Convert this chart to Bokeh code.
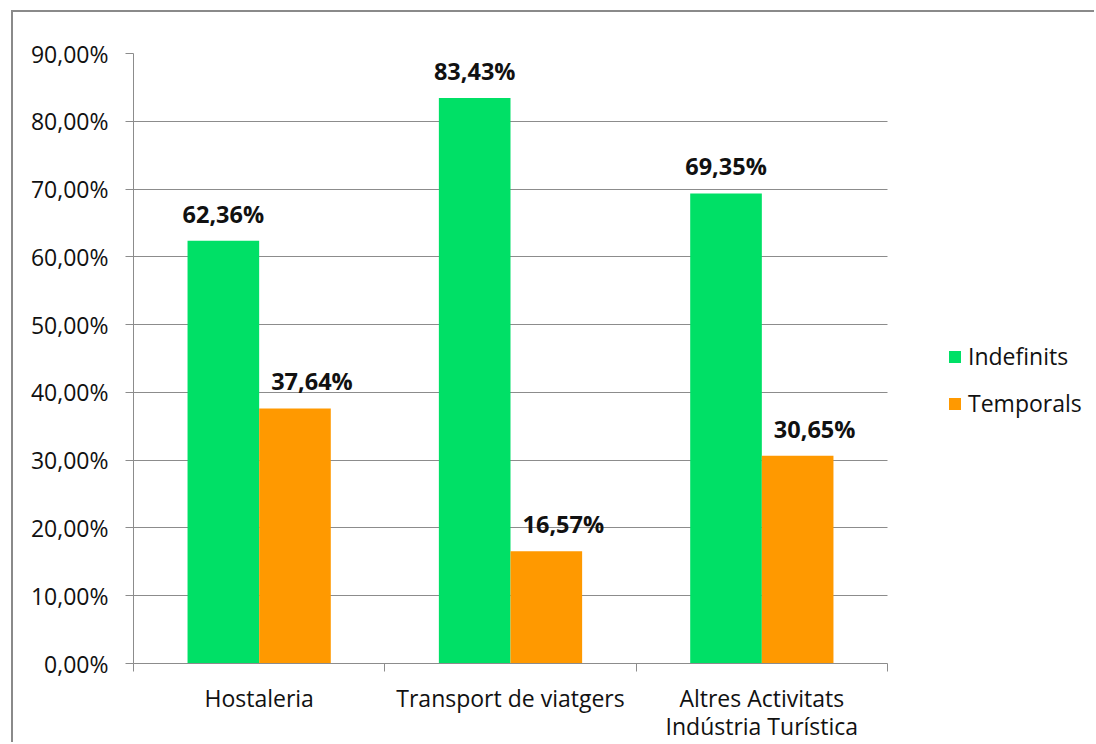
from bokeh.plotting import figure
from bokeh.models import FixedTicker, Legend, LegendItem, ColumnDataSource, Range1d
from bokeh.core.properties import value
from bokeh.embed import file_html
from bokeh.resources import INLINE

# ---- data ----
categories = ["Hostaleria", "Transport de viatgers", "Altres Activitats\nIndústria Turística"]
indefinits = [62.36, 83.43, 69.35]
temporals = [37.64, 16.57, 30.65]
series_names = ["Indefinits", "Temporals"]
y_ticks = [0, 10, 20, 30, 40, 50, 60, 70, 80, 90]
y_tick_labels = ["0,00%", "10,00%", "20,00%", "30,00%", "40,00%",
                 "50,00%", "60,00%", "70,00%", "80,00%", "90,00%"]

GREEN = "#00E066"
ORANGE = "#FF9900"
GRID = "#8C8C8C"
TEXT = "#111111"
FONT = "Open Sans"

# layout (pixels)
W, H = 1083, 732
LEFT, TOP, BOTTOM = 120, 41, 79
PLOT_W = 754                      # width used by the category axis
FRAME_W = W - LEFT                # frame also hosts the legend on its right

def pct(v):
    return ("%.2f%%" % v).replace(".", ",")

n = len(categories)
bar_w = 0.285
idx = list(range(n))
src_i = ColumnDataSource(dict(x=[i + 0.5 - bar_w / 2 for i in idx], top=indefinits,
                              lab=[pct(v) for v in indefinits]))
src_t = ColumnDataSource(dict(x=[i + 0.5 + bar_w / 2 for i in idx], top=temporals,
                              lab=[pct(v) for v in temporals]))

p = figure(width=W, height=H, output_backend="svg", toolbar_location=None,
           x_range=Range1d(0, n * FRAME_W / PLOT_W), y_range=Range1d(0, 90),
           min_border_left=LEFT, min_border_top=TOP, min_border_bottom=BOTTOM,
           min_border_right=0)
p.outline_line_color = None
p.background_fill_color = "white"
p.border_fill_color = "white"
p.styles = {"border-left": "2px solid #8A8A8A", "border-top": "2px solid #8A8A8A",
            "border-right": "none", "border-bottom": "none",
            "margin-left": "11px", "margin-top": "10px"}

r_i = p.vbar(x="x", top="top", width=bar_w, source=src_i, fill_color=GREEN, line_color=None)
r_t = p.vbar(x="x", top="top", width=bar_w, source=src_t, fill_color=ORANGE, line_color=None)

p.text(x="x", y="top", text="lab", source=src_i, text_font=value(FONT),
       text_font_style="bold", text_font_size="23.5px", text_align="center",
       text_baseline="alphabetic", y_offset=-27, text_color=TEXT)
p.text(x="x", y="top", text="lab", source=src_t, text_font=value(FONT),
       text_font_style="bold", text_font_size="23.5px", text_align="center",
       text_baseline="alphabetic", y_offset=-27, x_offset=17, text_color=TEXT)

# y axis
ya = p.yaxis[0]
ya.ticker = FixedTicker(ticks=y_ticks)
ya.major_label_overrides = {t: l for t, l in zip(y_ticks, y_tick_labels)}
ya.axis_line_color = GRID
ya.major_tick_line_color = GRID
ya.major_tick_in = 0
ya.major_tick_out = 8
ya.minor_tick_line_color = None
ya.major_label_text_font = FONT
ya.major_label_text_font_size = "23px"
ya.major_label_text_color = TEXT
ya.major_label_standoff = 17

# x axis
xa = p.xaxis[0]
centers = [i + 0.5 for i in idx]
xa.ticker = FixedTicker(ticks=centers, minor_ticks=[0] + [i + 1 for i in idx])
xa.major_label_overrides = {c: lab for c, lab in zip(centers, categories)}
xa.bounds = (0, n)
xa.axis_line_color = GRID
xa.major_tick_line_color = None
xa.minor_tick_line_color = GRID
xa.minor_tick_in = 0
xa.minor_tick_out = 8
xa.major_label_text_font = FONT
xa.major_label_text_font_size = "23px"
xa.major_label_text_color = TEXT
xa.major_label_text_line_height = 0.88
xa.major_label_standoff = 10

p.xgrid.visible = False
p.ygrid.ticker = FixedTicker(ticks=y_ticks)
p.ygrid.cross_bounds = (0, n)
p.ygrid.grid_line_color = GRID

legend = Legend(items=[LegendItem(label=series_names[0], renderers=[r_i]),
                       LegendItem(label=series_names[1], renderers=[r_t])],
                location=(814, 244), glyph_width=15, glyph_height=15,
                label_text_font=FONT, label_text_font_size="23px",
                label_text_color=TEXT, label_standoff=6, spacing=15,
                padding=0, margin=0, border_line_color=None,
                background_fill_alpha=0)
p.add_layout(legend, "center")

open("out.html", "w").write(file_html(p, INLINE))
